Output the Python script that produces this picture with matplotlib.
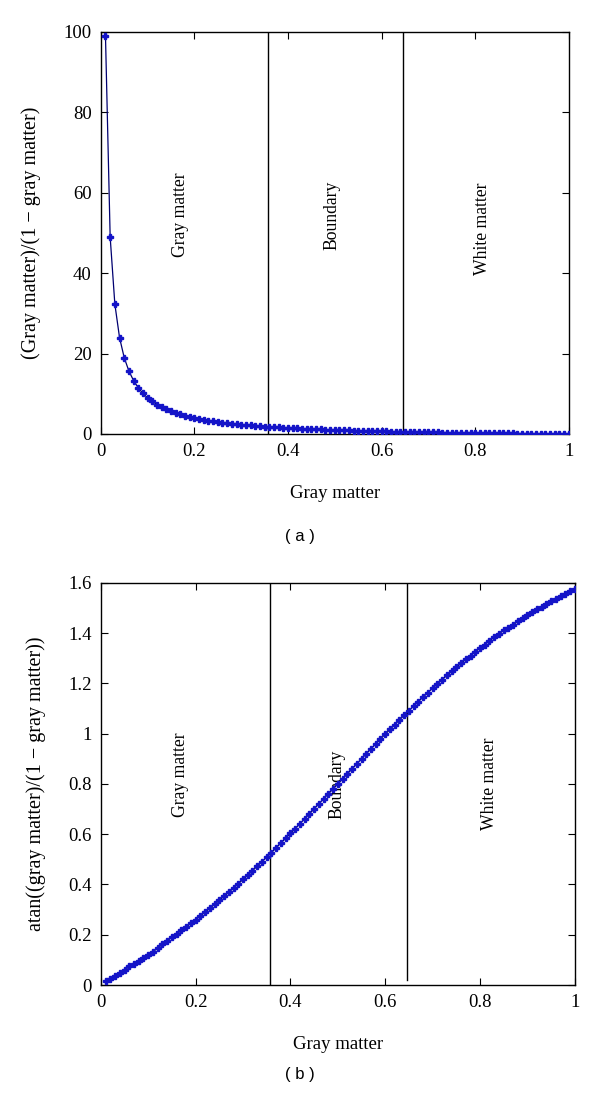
import matplotlib
matplotlib.use("Agg")
import matplotlib.pyplot as plt

plt.rcParams["font.family"] = ["Liberation Serif", "DejaVu Serif"]

# gray matter fraction, 0.01 .. 1.00
gray = [round(0.01 * i, 2) for i in range(1, 101)]

# panel (a): (gray matter)/(1 - gray matter)
ratio = [
    99, 49, 32.33, 24, 19, 15.67, 13.29, 11.5, 10.11, 9,
    8.09, 7.33, 6.69, 6.14, 5.67, 5.25, 4.88, 4.56, 4.26, 4,
    3.76, 3.55, 3.35, 3.17, 3, 2.85, 2.70, 2.57, 2.45, 2.33,
    2.23, 2.13, 2.03, 1.94, 1.86, 1.78, 1.70, 1.63, 1.56, 1.5,
    1.44, 1.38, 1.33, 1.27, 1.22, 1.17, 1.13, 1.08, 1.04, 1.0,
    0.96, 0.92, 0.89, 0.85, 0.82, 0.79, 0.75, 0.72, 0.69, 0.67,
    0.64, 0.61, 0.59, 0.56, 0.54, 0.52, 0.49, 0.47, 0.45, 0.43,
    0.41, 0.39, 0.37, 0.35, 0.33, 0.32, 0.30, 0.28, 0.27, 0.25,
    0.23, 0.22, 0.20, 0.19, 0.18, 0.16, 0.15, 0.14, 0.12, 0.11,
    0.10, 0.09, 0.08, 0.06, 0.05, 0.04, 0.03, 0.02, 0.01, 0.0,
]

# panel (b): atan((gray matter)/(1 - gray matter))
atan_ratio = [
    0.015, 0.025, 0.036, 0.047, 0.058, 0.074, 0.085, 0.097, 0.109, 0.121,
    0.133, 0.146, 0.163, 0.176, 0.190, 0.203, 0.217, 0.231, 0.245, 0.260,
    0.275, 0.290, 0.305, 0.321, 0.337, 0.353, 0.369, 0.386, 0.403, 0.420,
    0.437, 0.455, 0.473, 0.491, 0.509, 0.527, 0.546, 0.565, 0.584, 0.603,
    0.622, 0.642, 0.661, 0.681, 0.701, 0.721, 0.741, 0.761, 0.780, 0.800,
    0.820, 0.840, 0.860, 0.880, 0.900, 0.920, 0.940, 0.959, 0.979, 0.998,
    1.017, 1.036, 1.055, 1.073, 1.092, 1.110, 1.128, 1.146, 1.164, 1.181,
    1.198, 1.215, 1.232, 1.248, 1.264, 1.280, 1.296, 1.311, 1.326, 1.341,
    1.355, 1.370, 1.384, 1.398, 1.411, 1.421, 1.434, 1.447, 1.459, 1.471,
    1.483, 1.495, 1.506, 1.518, 1.529, 1.538, 1.548, 1.558, 1.568, 1.578,
]

boundaries = [0.358, 0.645]
regions = ["Gray matter", "Boundary", "White matter"]

MARKER_COLOR = "#1414c8"
LINE_COLOR = "#000070"


def style_axes(ax):
    for spine in ax.spines.values():
        spine.set_linewidth(1.0)
    ax.tick_params(direction="in", length=5, width=0.8, top=True, right=True,
                   labelsize=13.5, pad=6.5)
    ax.set_xlim(0, 1)
    ax.set_xticks([0, 0.2, 0.4, 0.6, 0.8, 1])
    ax.set_xticklabels(["0", "0.2", "0.4", "0.6", "0.8", "1"])
    ax.set_xlabel("Gray matter", fontsize=13.5, labelpad=18)


fig = plt.figure(figsize=(6.0, 11.06), dpi=100)

# ---- panel (a)
ax_a = fig.add_axes([0.168, 0.6076, 0.780, 0.3635])
ax_a.plot(gray, ratio, color=LINE_COLOR, linewidth=0.9, zorder=3)
ax_a.plot(gray, ratio, linestyle="none", marker="P", markersize=4.5,
          color=MARKER_COLOR, zorder=4)
for b in boundaries:
    ax_a.axvline(b, color="black", linewidth=1.0)
style_axes(ax_a)
ax_a.set_ylim(0, 100)
ax_a.set_yticks([0, 20, 40, 60, 80, 100])
ax_a.set_ylabel("(Gray matter)/(1 − gray matter)", fontsize=14.5, labelpad=16)
for name, x, y in zip(regions, [0.17, 0.495, 0.815], [54.5, 54.5, 51]):
    ax_a.text(x, y, name, rotation=90, ha="center", va="center", fontsize=12.7)
fig.text(0.5, 1 - 537 / 1106, "( a )", ha="center", va="center",
         fontsize=12, family=["Liberation Sans", "DejaVu Sans"])

# ---- panel (b)
ax_b = fig.add_axes([0.168, 0.1094, 0.790, 0.3635])
ax_b.plot(gray, atan_ratio, color=LINE_COLOR, linewidth=0.9, zorder=3)
ax_b.plot(gray, atan_ratio, linestyle="none", marker="P", markersize=4.5,
          color=MARKER_COLOR, zorder=4)
ax_b.axvline(boundaries[0], color="black", linewidth=1.0)
ax_b.axvline(boundaries[1], ymin=0.012, ymax=1, color="black", linewidth=1.0)
style_axes(ax_b)
ax_b.set_ylim(0, 1.6)
ax_b.set_yticks([0, 0.2, 0.4, 0.6, 0.8, 1.0, 1.2, 1.4, 1.6])
ax_b.set_yticklabels(["0", "0.2", "0.4", "0.6", "0.8", "1", "1.2", "1.4", "1.6"])
ax_b.set_ylabel("atan((gray matter)/(1 − gray matter))", fontsize=14.5, labelpad=16)
for name, x, y in zip(regions, [0.169, 0.498, 0.819], [0.836, 0.80, 0.80]):
    ax_b.text(x, y, name, rotation=90, ha="center", va="center", fontsize=12.7)
fig.text(0.5, 1 - 1075 / 1106, "( b )", ha="center", va="center",
         fontsize=12, family=["Liberation Sans", "DejaVu Sans"])

fig.savefig("out.png", dpi=100)
plt.close(fig)
